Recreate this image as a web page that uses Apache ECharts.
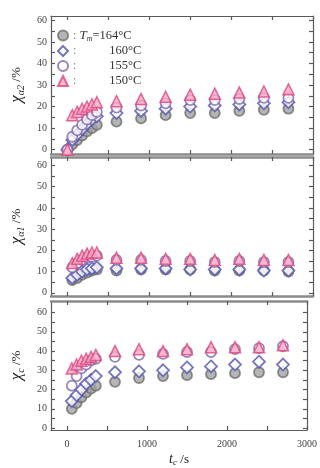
<!DOCTYPE html>
<html><head><meta charset="utf-8">
<script src="https://cdn.jsdelivr.net/npm/echarts@6/dist/echarts.min.js"></script>
<style>html,body{margin:0;padding:0;background:#fff}#c{width:320px;height:468px}</style>
</head><body><div id="c"></div>
<script>
// ---- data ----
const seriesNames = ['164', '160', '155', '150'];
const tTop = [0, 60, 120, 180, 240, 300, 360, 600, 900, 1200, 1500, 1800, 2100, 2400, 2700];
const tMain = [60, 120, 180, 240, 300, 360, 600, 900, 1200, 1500, 1800, 2100, 2400, 2700];
const xTickValues = [0, 500, 1000, 1500, 2000, 2500, 3000];
const xLabelValues = [0, 1000, 2000, 3000];
const yLabelValues = [0, 10, 20, 30, 40, 50, 60];
const yTickValues = [0, 5, 10, 15, 20, 25, 30, 35, 40, 45, 50, 55, 60];

// chi_alpha2 (top panel)
const a2_164 = [0, 2.5, 4.5, 6.5, 8.5, 10, 11.5, 13, 14.5, 16, 17, 17, 18, 18.5, 19];
const a2_160 = [0, 4.5, 7, 9.5, 12, 14, 15.5, 17, 18, 19, 20, 20.5, 21, 21.5, 22];
const a2_155 = [0, 6, 9, 11.5, 14, 16, 17.5, 19.5, 20.5, 21.5, 23, 23, 23.5, 24, 24];
const a2_150 = [0, 16, 17.5, 19, 20, 21, 22, 22.5, 23.5, 24.5, 25.5, 26, 26.5, 27, 28];
// chi_alpha1 (middle panel)
const a1_164 = [6, 7, 8.5, 9.5, 10.5, 11, 10.5, 11, 11, 11, 10.5, 10.5, 10.5, 10];
const a1_160 = [7, 8.5, 10, 11, 11.5, 12, 11.5, 11.5, 11.5, 11, 11, 11, 10.5, 10.5];
const a1_155 = [12, 14, 15.5, 16.5, 17, 17.5, 15.5, 15.5, 15, 15, 14.5, 15, 14.5, 14.5];
const a1_150 = [14, 16, 17.5, 18.5, 19, 19, 16.5, 16.5, 16, 16, 15.5, 16, 15.5, 15.5];
// chi_c (bottom panel)
const c_164 = [10, 13, 16, 18.5, 20.5, 22, 24, 26, 27, 27.5, 28, 28.5, 29, 29];
const c_160 = [14, 17, 20, 23, 25, 27, 29, 29.5, 30, 31.5, 32, 33, 34.5, 33];
const c_155 = [22, 27, 31, 33, 35, 36, 37, 38, 38.5, 39.5, 39.5, 41, 41.5, 42.5];
const c_150 = [31, 33, 35, 36, 37, 38, 40, 41, 40, 41, 42, 42, 42, 43];

// ---- chart ----
const serif = "'Liberation Serif','DejaVu Serif',serif";
const styles = {
  '164': {symbol: 'circle', symbolSize: 10, itemStyle: {color: '#a3a3a3', borderColor: '#6e6e6e', borderWidth: 1.8}},
  '160': {symbol: 'diamond', symbolSize: 12, itemStyle: {color: '#ffffff', borderColor: '#5553b0', borderWidth: 1.8}},
  '155': {symbol: 'circle', symbolSize: 10, itemStyle: {color: '#ffffff', borderColor: '#8068ad', borderWidth: 1.8}},
  '150': {symbol: 'triangle', symbolSize: 11, itemStyle: {color: '#f5a9c6', borderColor: '#e0457d', borderWidth: 1.5}}
};
const grids = [
  {left: 50, right: 7, top: 16, height: 138},
  {left: 50, right: 7, top: 157, height: 139},
  {left: 50, right: 7, top: 301, height: 137}
];
const yRanges = [[-2, 62], [-1.5, 64], [-1, 66]];
const axisLineStyle = {color: '#5a5a5a', width: 1.2};
const labelStyle = {color: '#444', fontFamily: serif, fontSize: 10};
const yNames = [
  '{x|χ}{s|α2} {p|/%}',
  '{x|χ}{s|α1} {p|/%}',
  '{x|χ}{s|c} {p|/%}'
];
const nameRich = {
  x: {fontSize: 17, fontStyle: 'italic', fontFamily: serif, color: '#222'},
  s: {fontSize: 10, fontStyle: 'italic', fontFamily: serif, color: '#222', padding: [9, 0, 0, 0]},
  p: {fontSize: 13, fontFamily: serif, color: '#222'}
};

const xAxes = [], yAxes = [];
for (let i = 0; i < 3; i++) {
  xAxes.push({
    type: 'value', gridIndex: i, min: -200, max: 3000, position: 'bottom',
    axisLine: {show: true, onZero: false, lineStyle: i < 2 ? {color: '#8a8a8a', width: 2.5} : axisLineStyle},
    axisTick: {show: true, inside: true, length: 4, customValues: xTickValues, lineStyle: axisLineStyle},
    axisLabel: {show: i === 2, customValues: xLabelValues, margin: 9, formatter: v => String(v), ...labelStyle},
    splitLine: {show: false},
    name: i === 2 ? '{t|t}{s|c} {p|/s}' : '', nameLocation: 'middle', nameGap: 22,
    nameTextStyle: {rich: {
      t: {fontSize: 14, fontStyle: 'italic', fontFamily: serif, color: '#222'},
      s: {fontSize: 9, fontStyle: 'italic', fontFamily: serif, color: '#222', padding: [6, 0, 0, 0]},
      p: {fontSize: 13, fontFamily: serif, color: '#222'}
    }}
  });
  yAxes.push({
    type: 'value', gridIndex: i, min: yRanges[i][0], max: yRanges[i][1], position: 'left',
    axisLine: {show: true, onZero: false, lineStyle: axisLineStyle},
    axisTick: {show: true, inside: true, length: 4, customValues: yTickValues, lineStyle: axisLineStyle},
    axisLabel: {show: true, customValues: yLabelValues, margin: 4, formatter: v => String(v), ...labelStyle},
    splitLine: {show: false},
    name: yNames[i], nameLocation: 'middle', nameGap: 25, nameRotate: 90,
    nameTextStyle: {rich: nameRich}
  });
}
for (let i = 0; i < 3; i++) {
  xAxes.push({
    type: 'value', gridIndex: i, min: -200, max: 3000, position: 'top',
    axisLine: {show: true, onZero: false, lineStyle: i > 0 ? {color: '#8a8a8a', width: 2.5} : axisLineStyle},
    axisTick: {show: true, inside: true, length: 4, customValues: xTickValues, lineStyle: axisLineStyle},
    axisLabel: {show: false}, splitLine: {show: false}
  });
  yAxes.push({
    type: 'value', gridIndex: i, min: yRanges[i][0], max: yRanges[i][1], position: 'right',
    axisLine: {show: true, onZero: false, lineStyle: axisLineStyle},
    axisTick: {show: true, inside: true, length: 4, customValues: yTickValues, lineStyle: axisLineStyle},
    axisLabel: {show: false}, splitLine: {show: false}
  });
}

const panelData = [
  {t: tTop, d: {'164': a2_164, '160': a2_160, '155': a2_155, '150': a2_150}},
  {t: tMain, d: {'164': a1_164, '160': a1_160, '155': a1_155, '150': a1_150}},
  {t: tMain, d: {'164': c_164, '160': c_160, '155': c_155, '150': c_150}}
];
const series = [];
panelData.forEach((p, i) => {
  ['164', '160', '155', '150'].forEach((n, k) => {
    series.push({
      type: 'scatter', name: n, xAxisIndex: i, yAxisIndex: i, z: 2 + k,
      data: p.t.map((t, j) => [t, p.d[n][j]]),
      ...styles[n]
    });
  });
});

const chart = echarts.init(document.getElementById('c'), null, {renderer: 'canvas'});
chart.setOption({
  backgroundColor: '#ffffff',
  animation: false,
  grid: grids,
  xAxis: xAxes,
  yAxis: yAxes,
  legend: {
    data: seriesNames, orient: 'vertical', left: 52, top: 24,
    itemWidth: 10, itemHeight: 10, itemGap: 2,
    formatter: function (name) {
      if (name === '164') return '{c|:} {i|T}{m|m}{e|=164°C}';
      return '{c|:} {v|' + name + '°C}';
    },
    textStyle: {
      fontFamily: serif, fontSize: 12.5, color: '#333',
      rich: {
        c: {fontFamily: serif, fontSize: 12, color: '#888', lineHeight: 15},
        i: {fontFamily: serif, fontSize: 13, fontStyle: 'italic', color: '#333', lineHeight: 15},
        m: {fontFamily: serif, fontSize: 8, fontStyle: 'italic', color: '#333', padding: [6, 0, 0, 0]},
        e: {fontFamily: serif, fontSize: 12.5, color: '#333', lineHeight: 15},
        v: {fontFamily: serif, fontSize: 12.5, color: '#333', width: 62, align: 'right', lineHeight: 15}
      }
    }
  },
  series: series
});
</script></body></html>
